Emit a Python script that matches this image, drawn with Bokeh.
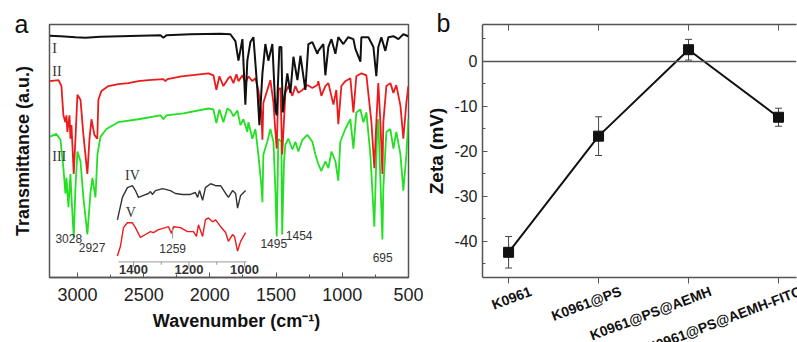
from bokeh.plotting import figure
from bokeh.layouts import row
from bokeh.models import (Range1d, FixedTicker, HTMLLabelSet, ColumnDataSource,
                          Span, Whisker, TeeHead, LinearAxis)
from bokeh.embed import file_html
from bokeh.resources import INLINE
from bokeh.core.properties import value

# ---------------- panel a : FTIR spectra (transmittance, a.u.) ----------------
wn_I = [3211, 3128, 3015, 2940, 2826, 2675, 2524, 2373, 2351, 2328, 2147, 1920, 1845,
        1807, 1784, 1754, 1732, 1717, 1694, 1671, 1641, 1626, 1603, 1581, 1558, 1528,
        1505, 1495, 1475, 1460, 1450, 1415, 1392, 1369, 1339, 1316, 1279, 1256, 1226,
        1188, 1181, 1143, 1128, 1105, 1082, 1052, 1030, 992, 955, 916, 901, 863, 856,
        803, 765, 743, 728, 705, 675, 652, 614, 576, 539, 501]
tr_I = [247.5, 247, 246, 245.5, 246.5, 247, 247.5, 248, 245.5, 248, 249, 249.5, 249,
        242, 222, 244, 177, 222, 241, 246, 192, 156, 209, 239, 222, 239,
        172, 166, 236, 236, 169, 209, 189, 226, 202, 227, 192, 239, 241,
        229, 232, 239, 207, 236, 244, 229, 246, 239, 246, 244, 234, 221, 246,
        246, 236, 206, 236, 246, 232, 246, 247, 244, 249, 247]

wn_II = [3211, 3143, 3121, 3106, 3091, 3083, 3076, 3060, 3053, 3045, 3028, 3015, 3000,
         2977, 2955, 2925, 2909, 2894, 2872, 2850, 2842, 2819, 2766, 2691, 2615, 2540,
         2464, 2351, 2336, 2320, 2215, 2011, 1973, 1951, 1928, 1898, 1860, 1845, 1822,
         1799, 1784, 1754, 1732, 1709, 1679, 1656, 1634, 1611, 1603, 1596, 1566, 1543,
         1520, 1505, 1495, 1483, 1467, 1454, 1437, 1430, 1407, 1377, 1354, 1332, 1301,
         1264, 1226, 1188, 1181, 1158, 1128, 1105, 1067, 1045, 1030, 1007, 977, 939,
         916, 894, 856, 818, 780, 758, 743, 728, 712, 697, 690, 667, 637, 614, 592,
         561, 539, 516, 501]
tr_II = [201, 202, 196, 166, 159, 166, 149, 166, 142, 156, 106, 142, 187,
         182, 146, 106, 142, 162, 146, 142, 182, 191, 196, 198, 199, 201,
         202, 203, 201, 203, 206, 209, 207, 192, 206, 196, 204, 206, 199,
         208, 201, 207, 199, 206, 201, 204, 192, 169, 141, 179, 192, 202,
         179, 149, 132, 192, 194, 126, 169, 189, 196, 186, 196, 189, 192,
         197, 194, 197, 201, 186, 196, 199, 177, 192, 157, 196, 201, 204,
         169, 206, 209, 207, 159, 112, 159, 199, 159, 106, 159, 196, 199, 189, 197,
         176, 142, 179, 196]

wn_III = [3211, 3159, 3128, 3106, 3091, 3083, 3068, 3053, 3045, 3028, 3015, 3000, 2977,
          2955, 2925, 2902, 2887, 2864, 2849, 2826, 2781, 2691, 2540, 2373, 2351, 2328,
          2200, 2011, 1973, 1951, 1928, 1898, 1868, 1845, 1822, 1792, 1769, 1747, 1717,
          1709, 1679, 1656, 1634, 1611, 1603, 1596, 1566, 1543, 1520, 1505, 1495, 1483,
          1460, 1454, 1440, 1430, 1407, 1377, 1354, 1332, 1301, 1264, 1226, 1203, 1181,
          1158, 1128, 1105, 1082, 1052, 1030, 1015, 977, 939, 916, 894, 863, 841, 818,
          788, 758, 735, 728, 712, 697, 690, 667, 637, 614, 592, 561, 539, 516, 501]
tr_III = [144, 147, 141, 112, 86, 102, 72, 106, 82, 41, 92, 129, 119,
          82, 44, 86, 102, 82, 126, 144, 152, 159, 162, 166, 162, 166,
          168, 173, 172, 158, 172, 159, 173, 171, 165, 171, 156, 162, 149,
          159, 142, 152, 126, 94, 77, 126, 139, 152, 139, 89, 42, 142,
          139, 44, 119, 136, 142, 131, 139, 129, 141, 146, 139, 126, 116,
          109, 119, 112, 129, 119, 99, 139, 152, 162, 132, 169, 172, 159, 169,
          126, 52, 159, 162, 99, 39, 92, 149, 152, 132, 149, 126, 89, 126, 162]

# inset (1460-990 cm-1)
wn_IV = [1458, 1440, 1422, 1404, 1393, 1382, 1364, 1346, 1339, 1332, 1321, 1295, 1267,
         1249, 1223, 1195, 1177, 1169, 1162, 1151, 1141, 1122, 1104, 1086, 1068, 1058,
         1043, 1032, 1025, 1014, 996]
tr_IV = [59, 82, 92, 94, 89, 82, 84, 86, 88, 85, 89, 91, 89,
         86, 85, 85, 87, 82, 89, 79, 92, 96, 94, 94, 86, 82,
         89, 86, 71, 84, 89]
wn_V = [1458, 1447, 1436, 1422, 1404, 1393, 1375, 1357, 1339, 1328, 1310, 1285, 1274,
        1263, 1256, 1231, 1205, 1184, 1173, 1166, 1151, 1141, 1130, 1115, 1104, 1086,
        1068, 1058, 1043, 1036, 1025, 1014, 996]
tr_V = [22, 32, 51, 56, 56, 51, 41, 44, 47, 46, 49, 51, 52,
        45, 52, 51, 47, 47, 42, 54, 42, 59, 61, 57, 59, 52,
        46, 37, 44, 42, 27, 37, 46]

x_ticks = [3000, 2500, 2000, 1500, 1000, 500]
x_minor = [2750, 2250, 1750, 1250, 750]
inset_ticks = [1400, 1200, 1000]
inset_minor = [1300, 1100]
peak_wn = [3028, 2927, 1495, 1454, 695]
peak_text = ["3028", "2927", "1495", "1454", "695"]

# ---------------- panel b : zeta potential ----------------
samples = ["K0961", "K0961@PS", "K0961@PS@AEMH", "K0961@PS@AEMH-FITC"]
zeta = [-42.4, -16.6, 2.6, -12.4]
zeta_err = [3.5, 4.3, 2.3, 2.0]
zeta_ticks = [0, -10, -20, -30, -40]
zeta_minor = [5, -5, -15, -25, -35, -45]

FONT = "Liberation Sans"
SERIF = "Liberation Serif"
BLACK = "#111111"
RED = "#ec1b1b"
GREEN = "#22e022"
FRAME = "#555555"


def panel_letter(p, x, y, letter, dx, dy):
    """Letter anchored at a point inside the frame and pushed outside by a pixel offset."""
    s = ColumnDataSource(dict(x=[x], y=[y], t=[letter]))
    p.add_layout(HTMLLabelSet(x="x", y="y", text="t", source=s, x_offset=dx, y_offset=dy,
                              text_align="left", text_baseline="top",
                              text_font=value(FONT), text_font_size=value("25px"),
                              text_color=value("#111111")))


# ======================= panel a =======================
pa = figure(width=423, height=342, x_range=Range1d(3211, 500), y_range=Range1d(0, 259),
            output_backend="svg", toolbar_location=None,
            min_border_left=49, min_border_right=15, min_border_top=20, min_border_bottom=63)
pa.extra_x_ranges = {"inset": Range1d(1702.7, 409)}
pa.grid.visible = False
pa.outline_line_color = FRAME
pa.outline_line_width = 1.5
pa.background_fill_color = "white"
pa.border_fill_color = "white"

xa = pa.xaxis[0]
xa.ticker = FixedTicker(ticks=x_ticks, minor_ticks=x_minor)
xa.major_tick_in = 5
xa.major_tick_out = 0
xa.minor_tick_in = 3
xa.minor_tick_out = 0
xa.major_tick_line_color = FRAME
xa.minor_tick_line_color = FRAME
xa.axis_line_color = FRAME
xa.axis_line_width = 1.5
xa.major_label_text_font = FONT
xa.major_label_text_font_size = "18px"
xa.major_label_text_color = "#222"
xa.major_label_standoff = 10
xa.axis_label = "\u00a0\u00a0\u00a0Wavenumber (cm\u207b\u00b9)"
xa.axis_label_text_font = FONT
xa.axis_label_text_font_size = "18px"
xa.axis_label_text_font_style = "bold"
xa.axis_label_text_color = "#111"
xa.axis_label_standoff = 7

ya = pa.yaxis[0]
ya.ticker = FixedTicker(ticks=[])
ya.major_label_standoff = 0
ya.major_tick_out = 0
ya.axis_line_color = FRAME
ya.axis_label = "Transmittance (a.u.)"
ya.axis_label_text_font = FONT
ya.axis_label_text_font_size = "18px"
ya.axis_label_text_font_style = "bold"
ya.axis_label_text_color = "#111"
ya.axis_label_standoff = 17

pa.line(wn_III, tr_III, line_color=GREEN, line_width=1.8)
pa.line(wn_II, tr_II, line_color=RED, line_width=1.8)
pa.line(wn_I, tr_I, line_color=BLACK, line_width=2)

# inset
pa.line(wn_IV, tr_IV, line_color="#333333", line_width=1.4, x_range_name="inset")
pa.line(wn_V, tr_V, line_color=RED, line_width=1.4, x_range_name="inset")
pa.segment(x0=[1454], y0=[16], x1=[993], y1=[16], line_color="#999999", line_width=1,
           x_range_name="inset")
pa.segment(x0=inset_ticks, y0=[16] * 3, x1=inset_ticks, y1=[11] * 3, line_color="#999999",
           line_width=1, x_range_name="inset")
pa.segment(x0=inset_minor, y0=[16] * 2, x1=inset_minor, y1=[13] * 2, line_color="#999999",
           line_width=1, x_range_name="inset")
pa.text(x=inset_ticks, y=[8.5] * 3, text=[str(t) for t in inset_ticks], x_range_name="inset",
        text_font=value(FONT), text_font_size="13px", text_font_style="bold",
        text_color="#333333", text_align="center", text_baseline="middle")
pa.segment(x0=[1259], y0=[40], x1=[1259], y1=[50], line_color="#999999", line_width=1,
           x_range_name="inset")
pa.text(x=[1259], y=[29.5], text=["1259"], x_range_name="inset",
        text_font=value(FONT), text_font_size="12px", text_color="#333333",
        text_align="center", text_baseline="middle")

# peak labels
pa.text(x=peak_wn, y=[40, 30.5, 35, 43, 20.5], text=peak_text,
        x_offset=[-5, 5, -3, 17, 0],
        text_font=value(FONT), text_font_size="12px", text_color="#333333",
        text_align="center", text_baseline="middle")

# roman numerals
pa.text(x=[3190, 3190, 3190], y=[234, 211, 124], text=["I", "II", "III"],
        text_font=value(SERIF), text_font_size="14px", text_color="#333333",
        text_align="left", text_baseline="middle")
pa.text(x=[1404, 1410], y=[104, 67], text=["IV", "V"], x_range_name="inset",
        text_font=value(SERIF), text_font_size="14px", text_color="#333333",
        text_align="center", text_baseline="middle")

panel_letter(pa, 3200, 255, "a", -36, 18)

# ======================= panel b =======================
pb = figure(width=374, height=342, x_range=Range1d(-0.29, 3.2), y_range=Range1d(-48, 8.2),
            output_backend="svg", toolbar_location=None,
            min_border_left=52, min_border_right=1, min_border_top=24, min_border_bottom=65)
pb.grid.visible = False
pb.outline_line_color = None
pb.background_fill_color = "white"
pb.border_fill_color = "white"

idx = list(range(len(samples)))

xb = pb.xaxis[0]
xb.ticker = FixedTicker(ticks=idx)
xb.major_label_overrides = {i: "" for i in idx}
xb.major_label_standoff = 0
xb.major_tick_in = 0
xb.major_tick_out = 6
xb.minor_tick_line_color = None
xb.axis_line_color = FRAME
xb.axis_line_width = 1.5
xb.major_tick_line_color = FRAME

top = LinearAxis(ticker=FixedTicker(ticks=idx), major_label_overrides={i: "" for i in idx},
                 major_label_standoff=0, major_tick_in=6, major_tick_out=0,
                 minor_tick_line_color=None, axis_line_color=FRAME, axis_line_width=1.5,
                 major_tick_line_color=FRAME)
pb.add_layout(top, "above")

yb = pb.yaxis[0]
yb.ticker = FixedTicker(ticks=zeta_ticks, minor_ticks=zeta_minor)
yb.major_label_overrides = {t: str(t) for t in zeta_ticks}
yb.major_tick_in = 5
yb.major_tick_out = 0
yb.minor_tick_in = 3
yb.minor_tick_out = 0
yb.axis_line_color = FRAME
yb.axis_line_width = 1.5
yb.major_tick_line_color = FRAME
yb.minor_tick_line_color = FRAME
yb.major_label_text_font = FONT
yb.major_label_text_font_size = "16px"
yb.major_label_text_color = "#222"
yb.major_label_standoff = 5
yb.axis_label = "Zeta (mV)"
yb.axis_label_text_font = FONT
yb.axis_label_text_font_size = "19px"
yb.axis_label_text_font_style = "bold"
yb.axis_label_text_color = "#111"
yb.axis_label_standoff = 4

pb.add_layout(Span(location=0, dimension="width", line_color="#555555", line_width=1.5))

src = ColumnDataSource(dict(x=idx, zeta=zeta,
                            upper=[z + e for z, e in zip(zeta, zeta_err)],
                            lower=[z - e for z, e in zip(zeta, zeta_err)],
                            name=samples,
                            base=[-48] * len(idx)))
pb.add_layout(Whisker(source=src, base="x", upper="upper", lower="lower",
                      line_color="#444444", line_width=1,
                      upper_head=TeeHead(size=7, line_color="#444444", line_width=1),
                      lower_head=TeeHead(size=7, line_color="#444444", line_width=1)))
pb.line("x", "zeta", source=src, line_color="#111111", line_width=2)
pb.scatter("x", "zeta", source=src, marker="square", size=10, fill_color="#111111",
           line_color="#111111")

pb.add_layout(HTMLLabelSet(x="x", y="base", text="name", source=src,
                           x_offset=20, y_offset=-6, angle=0.36, text_align="right",
                           text_baseline="top",
                           text_font=value(FONT), text_font_size=value("14px"),
                           text_font_style=value("bold"), text_color=value("#111111")))

panel_letter(pb, -0.25, 8.0, "b", -49, 16)

layout = row(pa, pb)
open("out.html", "w").write(file_html(layout, INLINE))
